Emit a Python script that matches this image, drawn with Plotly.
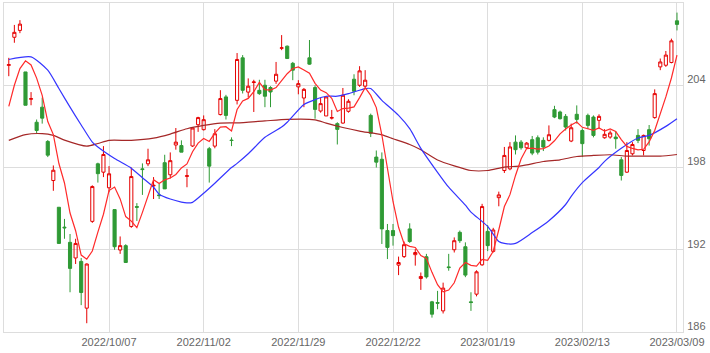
import pandas as pd
import plotly.graph_objects as go

# ---- categories: Japanese trading days shown on the chart ----
holidays = ['2022-09-19', '2022-09-23', '2022-10-10', '2022-11-03', '2022-11-23',
            '2023-01-02', '2023-01-03', '2023-01-09', '2023-02-23']
dates = [d.strftime('%Y/%m/%d') for d in pd.bdate_range('2022-09-09', '2023-03-09')
         if d.strftime('%Y-%m-%d') not in holidays]

tick_labels = ['2022/10/07', '2022/11/02', '2022/11/29', '2022/12/22',
               '2023/01/19', '2023/02/13', '2023/03/09']
y_ticks = [186, 192, 198, 204]

# ---- OHLC values ----
open_ = [205.45, 207.5, 208.0, 204.97, 202.98, 201.3, 202.4, 199.9, 197.05, 195.1,
         193.65, 192.54, 191.4, 191.15, 187.74, 194.07, 198.27, 197.66, 196.52, 194.93,
         191.98, 192.3, 193.7, 195.15, 197.9, 198.27, 196.65, 196.0, 198.35, 197.47,
         199.64, 199.6, 197.35, 199.57, 201.12, 200.76, 199.37, 199.56, 201.86, 203.15,
         200.0, 202.9, 206.0, 203.5, 204.2, 203.63, 204.0, 203.83, 204.3, 206.7,
         206.85, 205.6, 203.88, 203.07, 206.0, 203.83, 202.12, 201.76, 201.6, 201.2,
         201.24, 202.1, 204.44, 204.0, 203.93, 201.8, 198.76, 198.6, 193.4, 193.4,
         190.88, 191.5, 193.52, 191.64, 189.9, 191.49, 188.2, 188.15, 187.54, 190.75,
         192.0, 193.27, 192.22, 188.2, 188.76, 190.9, 193.34, 191.88, 195.8, 197.78,
         197.9, 199.85, 199.85, 199.44, 200.03, 200.17, 199.98, 199.98, 202.22, 202.05,
         201.73, 199.93, 201.88, 200.7, 201.8, 201.68, 201.44, 200.17, 200.22, 200.22,
         198.56, 197.66, 199.0, 200.34, 199.24, 200.76, 201.64, 205.34, 205.46, 205.66,
         208.7]
high = [206.0, 208.4, 208.75, 204.97, 203.5, 201.5, 203.1, 200.0, 198.15, 195.1,
        194.25, 193.15, 192.8, 191.4, 191.0, 196.7, 198.35, 199.56, 198.1, 194.93,
        192.97, 192.4, 198.0, 195.4, 198.3, 199.37, 197.3, 196.8, 198.93, 199.1,
        200.88, 199.98, 197.9, 200.95, 201.7, 201.8, 199.5, 200.8, 203.64, 203.3,
        200.2, 206.35, 206.2, 204.5, 204.4, 204.4, 204.4, 203.93, 205.7, 207.66,
        206.9, 205.7, 204.37, 203.8, 207.3, 204.0, 203.1, 203.2, 202.2, 201.3,
        203.8, 202.98, 204.8, 205.39, 205.1, 201.93, 199.24, 199.1, 193.88, 193.88,
        191.5, 192.6, 193.93, 192.05, 190.34, 191.7, 188.27, 189.0, 189.6, 191.7,
        192.9, 193.4, 192.54, 188.9, 190.5, 195.35, 193.8, 193.6, 196.24, 199.5,
        199.85, 200.34, 200.0, 199.85, 200.3, 200.34, 200.2, 201.07, 202.5, 202.15,
        201.9, 201.2, 202.53, 200.85, 201.93, 201.8, 201.88, 200.8, 200.7, 200.66,
        198.76, 199.85, 199.85, 200.8, 200.4, 201.1, 203.7, 205.95, 206.5, 207.4,
        209.3]
low = [204.66, 207.1, 207.8, 202.54, 202.54, 200.5, 201.2, 198.76, 196.3, 192.46,
       192.8, 188.9, 190.96, 187.96, 186.64, 193.96, 196.9, 197.3, 196.2, 192.0,
       191.7, 191.07, 193.6, 194.1, 196.0, 198.1, 195.7, 195.7, 196.44, 197.2,
       199.3, 199.12, 196.56, 199.5, 200.6, 200.7, 196.9, 199.4, 201.8, 201.5,
       199.56, 202.6, 203.4, 203.1, 202.05, 203.3, 202.4, 202.4, 204.1, 206.56,
       205.95, 204.37, 203.34, 202.4, 205.5, 201.56, 202.0, 201.76, 201.5, 199.68,
       201.2, 202.0, 203.27, 203.88, 203.83, 200.22, 198.0, 192.42, 191.32, 192.3,
       190.15, 191.4, 192.5, 190.84, 189.07, 189.9, 187.05, 187.66, 187.35, 190.47,
       191.8, 192.5, 190.0, 187.54, 188.6, 190.83, 191.9, 191.8, 195.17, 197.6,
       197.8, 198.95, 199.3, 199.35, 198.9, 198.95, 199.2, 199.9, 201.6, 201.5,
       200.7, 199.85, 201.2, 198.76, 200.8, 200.2, 200.8, 200.1, 200.1, 199.37,
       197.05, 197.6, 198.88, 199.78, 198.88, 199.6, 201.56, 205.1, 205.34, 205.6,
       208.0]
close = [205.5, 207.86, 208.46, 202.54, 203.02, 200.7, 201.6, 198.9, 197.8, 192.46,
         193.6, 190.64, 192.46, 188.88, 190.96, 196.61, 197.55, 198.95, 197.54, 192.22,
         192.3, 191.07, 197.34, 195.1, 197.85, 198.56, 196.7, 195.95, 196.44, 198.5,
         199.85, 199.12, 197.4, 200.88, 201.64, 201.49, 198.1, 200.46, 203.03, 201.8,
         199.97, 205.88, 203.63, 203.93, 204.24, 203.39, 203.2, 203.51, 204.8, 206.73,
         205.95, 205.1, 204.12, 203.7, 205.54, 202.24, 202.66, 203.15, 201.64, 200.78,
         203.27, 202.83, 203.56, 205.05, 204.37, 200.5, 198.39, 193.52, 192.17, 193.03,
         191.07, 192.37, 192.6, 191.8, 190.05, 190.02, 187.3, 188.1, 189.2, 190.7,
         192.66, 192.66, 190.15, 188.15, 190.39, 195.15, 192.3, 193.44, 196.0, 198.88,
         199.5, 199.3, 199.44, 199.78, 199.05, 199.12, 199.49, 200.39, 201.68, 201.56,
         200.95, 200.9, 201.51, 199.74, 201.07, 200.34, 201.73, 200.42, 200.52, 200.1,
         197.42, 199.24, 199.68, 199.98, 200.34, 200.1, 203.39, 205.7, 206.2, 207.24,
         208.44]

# ---- moving averages ----
# 5-day MA: first four points (need earlier history), rest from closes
ma5_head = [202.46, 204.0, 205.22, 205.78]
ma5 = ma5_head + [round(sum(close[i - 4:i + 1]) / 5, 2) for i in range(4, len(close))]

ma25_at = [0, 4, 7, 9, 11, 13, 15, 16, 19, 22, 24, 26, 27, 29, 31, 32, 33, 35, 37, 40,
           41, 43, 46, 49, 50, 53, 55, 57, 59, 61, 64, 65, 67, 70, 72, 74, 77, 79, 82, 83,
           86, 88, 89, 91, 94, 97, 100, 101, 103, 106, 107, 110, 113, 115, 118, 120]
ma25 = [205.88, 206.07, 205.1, 203.76, 202.4, 201.1, 199.85, 199.49, 198.65, 197.95,
        197.25, 196.56, 196.05, 195.7, 195.48, 195.42, 195.46, 196.12, 196.85, 198.0,
        198.3, 199.0, 200.2, 200.95, 201.3, 202.6, 202.95, 203.2, 203.2, 203.39,
        203.76, 203.76, 202.9, 201.8, 200.83, 199.4, 197.65, 196.56, 195.25, 194.75,
        193.7, 192.6, 192.46, 192.46, 193.25, 194.12, 195.3, 195.9, 196.9, 198.0,
        198.45, 199.4, 200.15, 200.34, 201.0, 201.56]

ma75_at = [0, 3, 6, 8, 10, 14, 16, 18, 22, 26, 29, 32, 35, 38, 41, 46, 50, 55, 57, 60,
           63, 67, 69, 72, 74, 77, 80, 83, 86, 89, 92, 96, 99, 102, 105, 108, 111, 114,
           117, 120]
ma75 = [199.98, 200.4, 200.47, 200.34, 200.0, 199.56, 199.75, 199.98, 199.98, 200.14,
        200.44, 200.83, 201.07, 201.24, 201.26, 201.4, 201.51, 201.48, 201.24, 200.92,
        200.66, 200.38, 200.1, 199.68, 199.3, 198.55, 198.12, 197.78, 197.78, 198.03,
        198.12, 198.44, 198.56, 198.8, 198.88, 198.93, 198.83, 198.83, 198.83, 198.95]

RED = '#e60000'
GREEN = '#2f9a35'
GRID = '#dddddd'

fig = go.Figure()
fig.add_trace(go.Candlestick(
    x=dates, open=open_, high=high, low=low, close=close,
    increasing=dict(line=dict(color=RED, width=1), fillcolor='rgba(255,255,255,0)'),
    decreasing=dict(line=dict(color=GREEN, width=1), fillcolor=GREEN),
    whiskerwidth=0, hoverinfo='skip', showlegend=False))
fig.add_trace(go.Scatter(x=[dates[i] for i in ma75_at], y=ma75, mode='lines',
                         line=dict(color='#a52828', width=1.2, shape='spline', smoothing=0.6),
                         hoverinfo='skip', showlegend=False))
fig.add_trace(go.Scatter(x=[dates[i] for i in ma25_at], y=ma25, mode='lines',
                         line=dict(color='#3535ff', width=1.2, shape='spline', smoothing=0.6),
                         hoverinfo='skip', showlegend=False))
fig.add_trace(go.Scatter(x=dates, y=ma5, mode='lines',
                         line=dict(color='#ff2a2a', width=1.2),
                         hoverinfo='skip', showlegend=False))

fig.update_layout(
    width=710, height=353,
    margin=dict(l=4, r=27, t=3, b=21),
    paper_bgcolor='white', plot_bgcolor='white',
    boxgap=0.2,
    font=dict(family='Liberation Sans, Arial, sans-serif', size=11, color='#666'),
)
fig.update_xaxes(
    type='category', range=[-0.86, 121.08], rangeslider=dict(visible=False),
    tickvals=tick_labels, ticktext=tick_labels, ticks='',
    showgrid=True, gridcolor=GRID, gridwidth=1,
    showline=True, mirror=True, linecolor=GRID, linewidth=1,
    tickfont=dict(size=11, color='#666'), fixedrange=True,
)
fig.update_yaxes(
    side='right', range=[186, 210], tickvals=y_ticks, ticks='',
    showgrid=True, gridcolor=GRID, gridwidth=1, zeroline=False,
    showline=True, mirror=True, linecolor=GRID, linewidth=1,
    tickfont=dict(size=11, color='#666'), ticklabelshift=-6, ticklabelstandoff=1,
    fixedrange=True,
)

fig.write_html('out.html')
